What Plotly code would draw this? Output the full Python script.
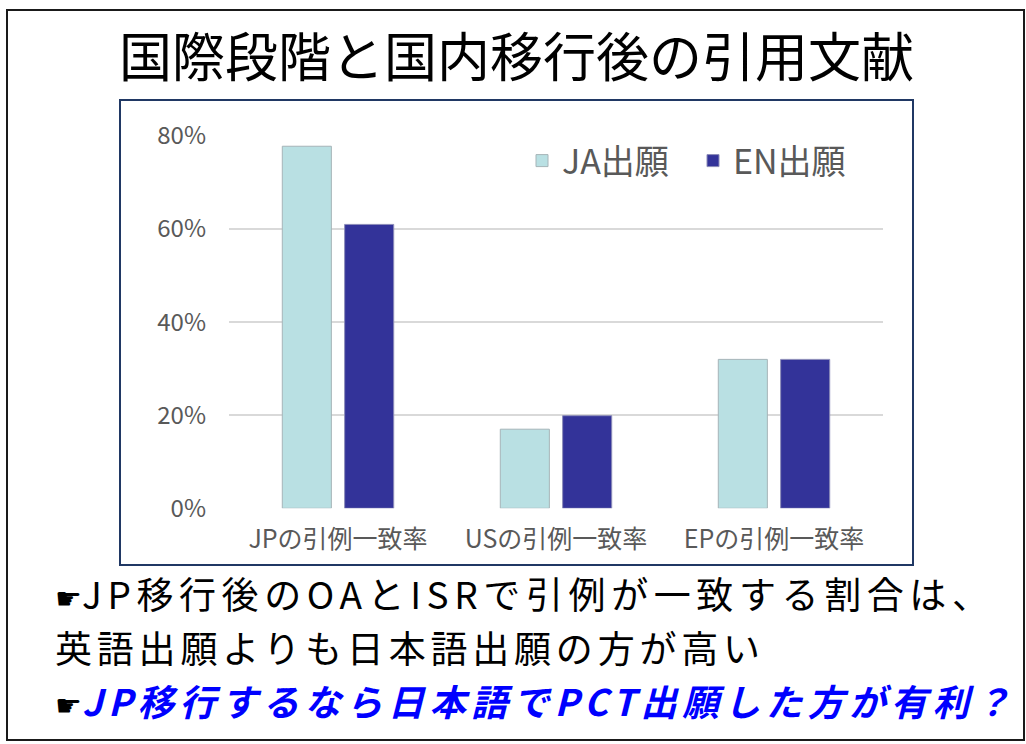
import plotly.graph_objects as go

W, H = 1026, 744

categories = ["JPの引例一致率", "USの引例一致率", "EPの引例一致率"]
ja_values = [0.778, 0.170, 0.320]
en_values = [0.610, 0.199, 0.320]
series_names = ["JA出願", "EN出願"]
y_ticks = [0, 0.2, 0.4, 0.6, 0.8]
y_tick_labels = ["0%", "20%", "40%", "60%", "80%"]

title_text = "国際段階と国内移行後の引用文献"
line1 = "JP移行後のOAとISRで引例が一致する割合は、"
line2 = "英語出願よりも日本語出願の方が高い"
line3 = "JP移行するなら日本語でPCT出願した方が有利？"

FONT = "Noto Sans CJK JP"
GRAY = "#595959"

def px(x):
    return x / W

def py(y):
    return 1 - y / H

fig = go.Figure()
fig.add_trace(go.Bar(
    x=categories, y=ja_values, name=series_names[0],
    marker=dict(color="#B9E0E3", line=dict(color="#A6B4B8", width=1)),
))
fig.add_trace(go.Bar(
    x=categories, y=en_values, name=series_names[1],
    marker=dict(color="#333399", line=dict(color="#8C8CB8", width=1)),
))

fig.update_layout(
    width=W, height=H,
    autosize=False,
    margin=dict(l=0, r=0, t=0, b=0, autoexpand=False),
    paper_bgcolor="white", plot_bgcolor="white",
    font=dict(family=FONT, color=GRAY),
    barmode="group", bargap=0.428, bargroupgap=0.213,
    showlegend=True,
    legend=dict(
        orientation="h", x=px(514), xanchor="left", y=py(124), yanchor="top",
        font=dict(family=FONT, size=34, color=GRAY),
        bgcolor="white", bordercolor="white", borderwidth=8,
        itemwidth=30, entrywidth=126,
        traceorder="normal",
    ),
    xaxis=dict(
        domain=[px(229), px(883)],
        tickfont=dict(family=FONT, size=25, color=GRAY),
        showgrid=False, showline=False, ticks="", ticklabelstandoff=14,
        automargin=False,
    ),
    yaxis=dict(
        domain=[py(508.3), py(136)],
        range=[0, 0.8],
        tickvals=y_ticks, ticktext=y_tick_labels,
        tickfont=dict(family=FONT, size=24, color=GRAY),
        showgrid=True, gridcolor="#D9D9D9", gridwidth=2,
        zeroline=False, showline=False, ticks="", ticklabelstandoff=22,
        automargin=False,
    ),
)

shapes = [
    dict(type="rect", xref="paper", yref="paper", x0=px(7), x1=px(1024), y0=py(740), y1=py(10),
         line=dict(color="#1a1a1a", width=2), fillcolor="rgba(0,0,0,0)", layer="above"),
    dict(type="rect", xref="paper", yref="paper", x0=px(120), x1=px(913), y0=py(565), y1=py(100),
         line=dict(color="#203864", width=2), fillcolor="rgba(0,0,0,0)", layer="above"),
]
fig.update_layout(shapes=shapes)

body_text = (
    '<span style="font-size:30px">☛</span>'
    '<span style="font-size:37px;letter-spacing:5.6px">' + line1 + '</span><br>'
    '<span style="font-size:37px;letter-spacing:4.8px">' + line2 + '</span><br>'
    '<span style="font-size:30px">☛</span>'
    '<span style="font-size:36.5px;letter-spacing:5.2px;color:#0000FF"><b><i>' + line3 + '</i></b></span>'
)

annotations = [
    dict(text=title_text, x=px(516), y=py(54), xref="paper", yref="paper",
         xanchor="center", yanchor="middle", showarrow=False,
         font=dict(family=FONT, size=53, color="black")),
    dict(text=body_text, x=px(53), y=py(646), xref="paper", yref="paper",
         xanchor="left", yanchor="middle", align="left", showarrow=False,
         font=dict(family=FONT, size=41.3, color="black")),
]
fig.update_layout(annotations=annotations)

fig.write_html(
    "out.html",
    config={"displayModeBar": False},
    post_script="document.body.style.margin='0';document.body.style.overflow='hidden';",
)
